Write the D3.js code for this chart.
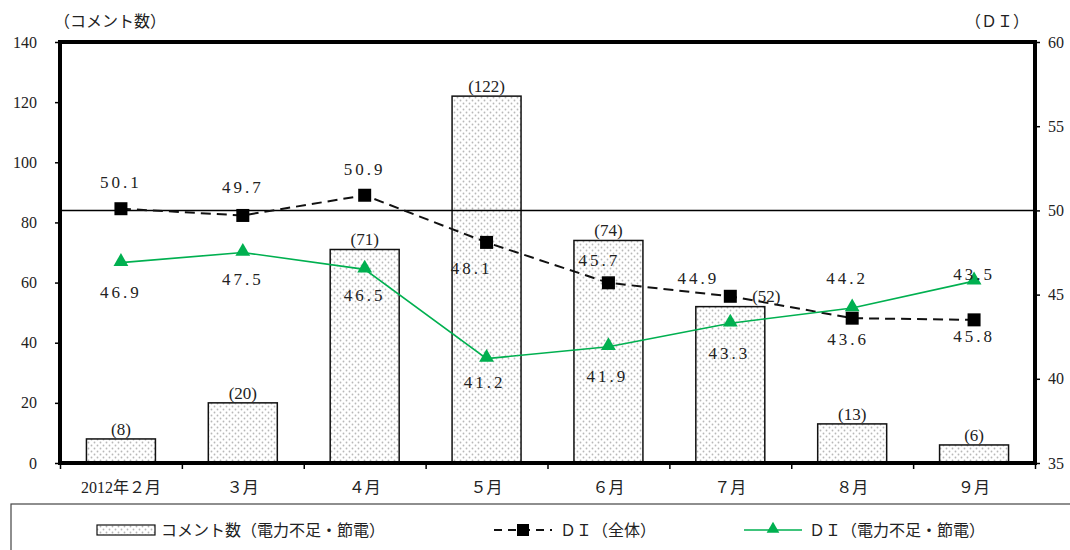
<!DOCTYPE html>
<html lang="ja">
<head>
<meta charset="utf-8">
<script src="https://cdn.jsdelivr.net/npm/d3@7"></script>
<style>
  html, body { margin: 0; padding: 0; background: #fff; }
  svg { display: block; }
  text { font-family: "Liberation Serif", "Noto Sans CJK JP", serif; fill: #222; }
</style>
</head>
<body>
<svg id="chart" width="1070" height="550"></svg>
<script>
// Monthly figures, Feb–Sep 2012
const categories = ["2012年２月", "３月", "４月", "５月", "６月", "７月", "８月", "９月"];
const commentCounts = [8, 20, 71, 122, 74, 52, 13, 6];        // コメント数（電力不足・節電）
const diAll = [50.1, 49.7, 50.9, 48.1, 45.7, 44.9, 43.6, 43.5];   // ＤＩ（全体）
const diPower = [46.9, 47.5, 46.5, 41.2, 41.9, 43.3, 44.2, 45.8]; // ＤＩ（電力不足・節電）
const leftTicks = [0, 20, 40, 60, 80, 100, 120, 140];
const rightTicks = [35, 40, 45, 50, 55, 60];
const diReference = 50;

// Hand-placed label offsets (px) relative to each mark
const countLabelOffset = [[0, 0], [0, 0], [0, 0], [0, 0], [0, 0], [36, -1], [0, 0], [0, 0]];
const allLabelOffset = [[0, -27], [0, -28], [0, -26], [-15, 26], [-9, -23], [-32, -18], [-4, 21], [0, -46]];
const powerLabelOffset = [[0, 29], [0, 27], [0, 26], [-2, 23], [-1, 29], [-1, 30], [-5, -30], [0, 55]];

const svg = d3.select("#chart");
const plotLeft = 60, plotRight = 1035, plotTop = 42, plotBottom = 463;

const x = d3.scaleBand().domain(categories).range([plotLeft, plotRight]).paddingInner(0.434).paddingOuter(0.217);
const xEdge = d3.scaleLinear().domain([0, categories.length]).range([plotLeft, plotRight]);
const yL = d3.scaleLinear().domain([0, 140]).range([plotBottom, plotTop]);
const yR = d3.scaleLinear().domain([35, 60]).range([plotBottom, plotTop]);
const cx = c => x(c) + x.bandwidth() / 2;

// Dotted fill for the bars
const defs = svg.append("defs");
const pat = defs.append("pattern").attr("id", "dots").attr("patternUnits", "userSpaceOnUse")
  .attr("width", 6).attr("height", 6);
pat.append("rect").attr("width", 6).attr("height", 6).attr("fill", "#fff");
pat.append("circle").attr("cx", 1.5).attr("cy", 1.5).attr("r", 0.9).attr("fill", "#b8b8b8");
pat.append("circle").attr("cx", 4.5).attr("cy", 4.5).attr("r", 0.9).attr("fill", "#b8b8b8");

// Bars
svg.append("g").selectAll("rect").data(commentCounts).join("rect")
  .attr("x", (d, i) => x(categories[i]))
  .attr("y", d => yL(d))
  .attr("width", x.bandwidth())
  .attr("height", d => yL(0) - yL(d))
  .attr("fill", "url(#dots)")
  .attr("stroke", "#111").attr("stroke-width", 1.5);

svg.append("g").selectAll("text").data(commentCounts).join("text")
  .attr("x", (d, i) => cx(categories[i]) + countLabelOffset[i][0])
  .attr("y", (d, i) => yL(d) - 4 + countLabelOffset[i][1])
  .attr("text-anchor", "middle")
  .attr("font-size", 17)
  .text(d => `(${d})`);

// DI = 50 reference line
svg.append("line")
  .attr("x1", plotLeft).attr("x2", plotRight)
  .attr("y1", yR(diReference)).attr("y2", yR(diReference))
  .attr("stroke", "#000").attr("stroke-width", 1.5);

// DI lines
const diLine = d3.line().x((d, i) => cx(categories[i])).y(d => yR(d));
svg.append("path").datum(diAll).attr("d", diLine)
  .attr("fill", "none").attr("stroke", "#111").attr("stroke-width", 2)
  .attr("stroke-dasharray", "10,6");
svg.append("path").datum(diPower).attr("d", diLine)
  .attr("fill", "none").attr("stroke", "#00b050").attr("stroke-width", 1.6);

// Markers
svg.append("g").selectAll("rect").data(diAll).join("rect")
  .attr("x", (d, i) => cx(categories[i]) - 6.5)
  .attr("y", d => yR(d) - 6.5)
  .attr("width", 13).attr("height", 13).attr("fill", "#000");
const tri = d3.symbol().type(d3.symbolTriangle).size(95);
svg.append("g").selectAll("path").data(diPower).join("path")
  .attr("d", tri)
  .attr("transform", (d, i) => `translate(${cx(categories[i])},${yR(d) - 1})`)
  .attr("fill", "#00b050");

// Value labels
const fmt = d3.format(".1f");
function valueLabels(values, offsets) {
  svg.append("g").selectAll("text").data(values).join("text")
    .attr("x", (d, i) => cx(categories[i]) + offsets[i][0])
    .attr("y", (d, i) => yR(d) + offsets[i][1])
    .attr("dy", "0.35em")
    .attr("text-anchor", "middle")
    .attr("font-size", 17)
    .attr("letter-spacing", 3)
    .text(d => fmt(d));
}
valueLabels(diAll, allLabelOffset);
valueLabels(diPower, powerLabelOffset);

// Axes
const axL = svg.append("g").attr("transform", `translate(${plotLeft},0)`)
  .call(d3.axisLeft(yL).tickValues(leftTicks).tickSize(5).tickPadding(18));
const axR = svg.append("g").attr("transform", `translate(${plotRight},0)`)
  .call(d3.axisRight(yR).tickValues(rightTicks).tickSize(5).tickPadding(8));
const axB = svg.append("g").attr("transform", `translate(0,${plotBottom})`)
  .call(d3.axisBottom(xEdge).tickValues(d3.range(categories.length + 1)).tickSize(6).tickFormat(""));
const axBL = svg.append("g").attr("transform", `translate(0,${plotBottom})`)
  .call(d3.axisBottom(x).tickSize(0).tickPadding(19));
[axL, axR, axB, axBL].forEach(g => {
  g.select(".domain").remove();
  g.selectAll("line").attr("stroke", "#000").attr("stroke-width", 1.5);
  g.selectAll("text").attr("font-size", 16).attr("fill", "#222");
});

// Plot frame
svg.append("rect")
  .attr("x", plotLeft).attr("y", plotTop)
  .attr("width", plotRight - plotLeft).attr("height", plotBottom - plotTop)
  .attr("fill", "none").attr("stroke", "#000").attr("stroke-width", 4);

// Axis titles
svg.append("text").attr("x", 110).attr("y", 27).attr("text-anchor", "middle")
  .attr("font-size", 16).text("（コメント数）");
svg.append("text").attr("x", 997).attr("y", 27).attr("text-anchor", "middle")
  .attr("font-size", 16).text("（ＤＩ）");

// Legend
const lg = svg.append("g");
lg.append("rect").attr("x", 11).attr("y", 504).attr("width", 1080).attr("height", 80)
  .attr("fill", "#fff").attr("stroke", "#444").attr("stroke-width", 1.2);
const ly = 530;
lg.append("rect").attr("x", 97).attr("y", ly - 5).attr("width", 58).attr("height", 10)
  .attr("fill", "url(#dots)").attr("stroke", "#111").attr("stroke-width", 1.2);
lg.append("text").attr("x", 161).attr("y", ly).attr("dy", "0.35em").attr("font-size", 16)
  .text("コメント数（電力不足・節電）");
lg.append("line").attr("x1", 494).attr("x2", 552).attr("y1", ly).attr("y2", ly)
  .attr("stroke", "#111").attr("stroke-width", 2).attr("stroke-dasharray", "8,6");
lg.append("rect").attr("x", 517).attr("y", ly - 6).attr("width", 12).attr("height", 12).attr("fill", "#000");
lg.append("text").attr("x", 560).attr("y", ly).attr("dy", "0.35em").attr("font-size", 16)
  .text("ＤＩ（全体）");
lg.append("line").attr("x1", 744).attr("x2", 802).attr("y1", ly).attr("y2", ly)
  .attr("stroke", "#00b050").attr("stroke-width", 1.6);
lg.append("path").attr("d", d3.symbol().type(d3.symbolTriangle).size(70))
  .attr("transform", `translate(773,${ly - 1})`).attr("fill", "#00b050");
lg.append("text").attr("x", 809).attr("y", ly).attr("dy", "0.35em").attr("font-size", 16)
  .text("ＤＩ（電力不足・節電）");
</script>
</body>
</html>
